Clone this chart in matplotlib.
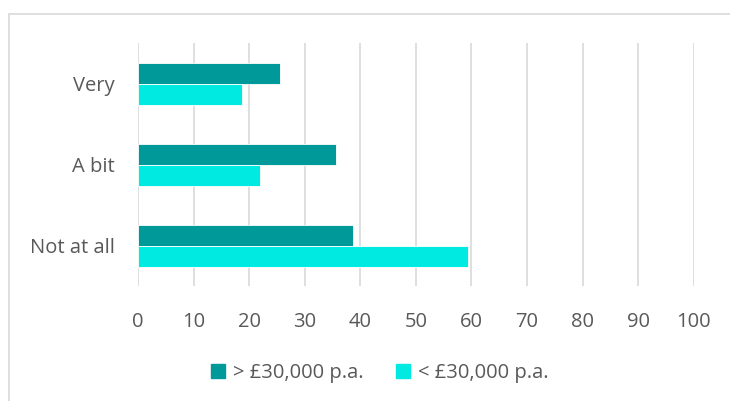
import matplotlib.pyplot as plt
from matplotlib.patches import Rectangle, Patch
import numpy as np

categories = ['Very', 'A bit', 'Not at all']
above_30k = [25.6, 35.7, 38.6]
below_30k = [18.7, 21.9, 59.3]
series_names = ['> £30,000 p.a.', '< £30,000 p.a.']
xticks = [0, 10, 20, 30, 40, 50, 60, 70, 80, 90, 100]

dark = '#009999'
light = '#00EAE2'
grey_text = '#595959'
grid_col = '#D9D9D9'

plt.rcParams['font.family'] = ['Open Sans', 'DejaVu Sans']

W, H = 730, 401
fig = plt.figure(figsize=(W / 100, H / 100), dpi=100)
ax = fig.add_axes([138 / W, (H - 286) / H, (693.7 - 138) / W, (286 - 43.3) / H])

# outer chart border
fig.patches.append(Rectangle((9 / W, -0.1), 1.2, (H - 14) / H + 0.1,
                             transform=fig.transFigure, fill=False,
                             edgecolor=grid_col, linewidth=1.2))

y = np.arange(len(categories))[::-1]
h = 0.26
ax.barh(y + h / 2, above_30k, height=h, color=dark, edgecolor='white', linewidth=0.6, zorder=3)
ax.barh(y - h / 2, below_30k, height=h, color=light, edgecolor='white', linewidth=0.6, zorder=3)

ax.set_xlim(0, 100)
ax.set_ylim(-0.5, 2.5)
ax.set_xticks(xticks)
ax.set_yticks(y)
ax.set_yticklabels(categories)
ax.grid(axis='x', color=grid_col, linewidth=1.2, zorder=0)
for s in ax.spines.values():
    s.set_visible(False)
ax.tick_params(length=0, colors=grey_text, labelsize=14.5)
ax.tick_params(axis='x', pad=19)
ax.tick_params(axis='y', pad=17)

handles = [Patch(color=dark), Patch(color=light)]
fig.legend(handles, series_names, loc='center', bbox_to_anchor=(380 / W, (H - 373) / H),
           ncol=2, frameon=False, fontsize=14.5, labelcolor=grey_text,
           handlelength=0.7, handleheight=0.7, handletextpad=0.4, columnspacing=1.6)

fig.savefig('out.png', dpi=100)
